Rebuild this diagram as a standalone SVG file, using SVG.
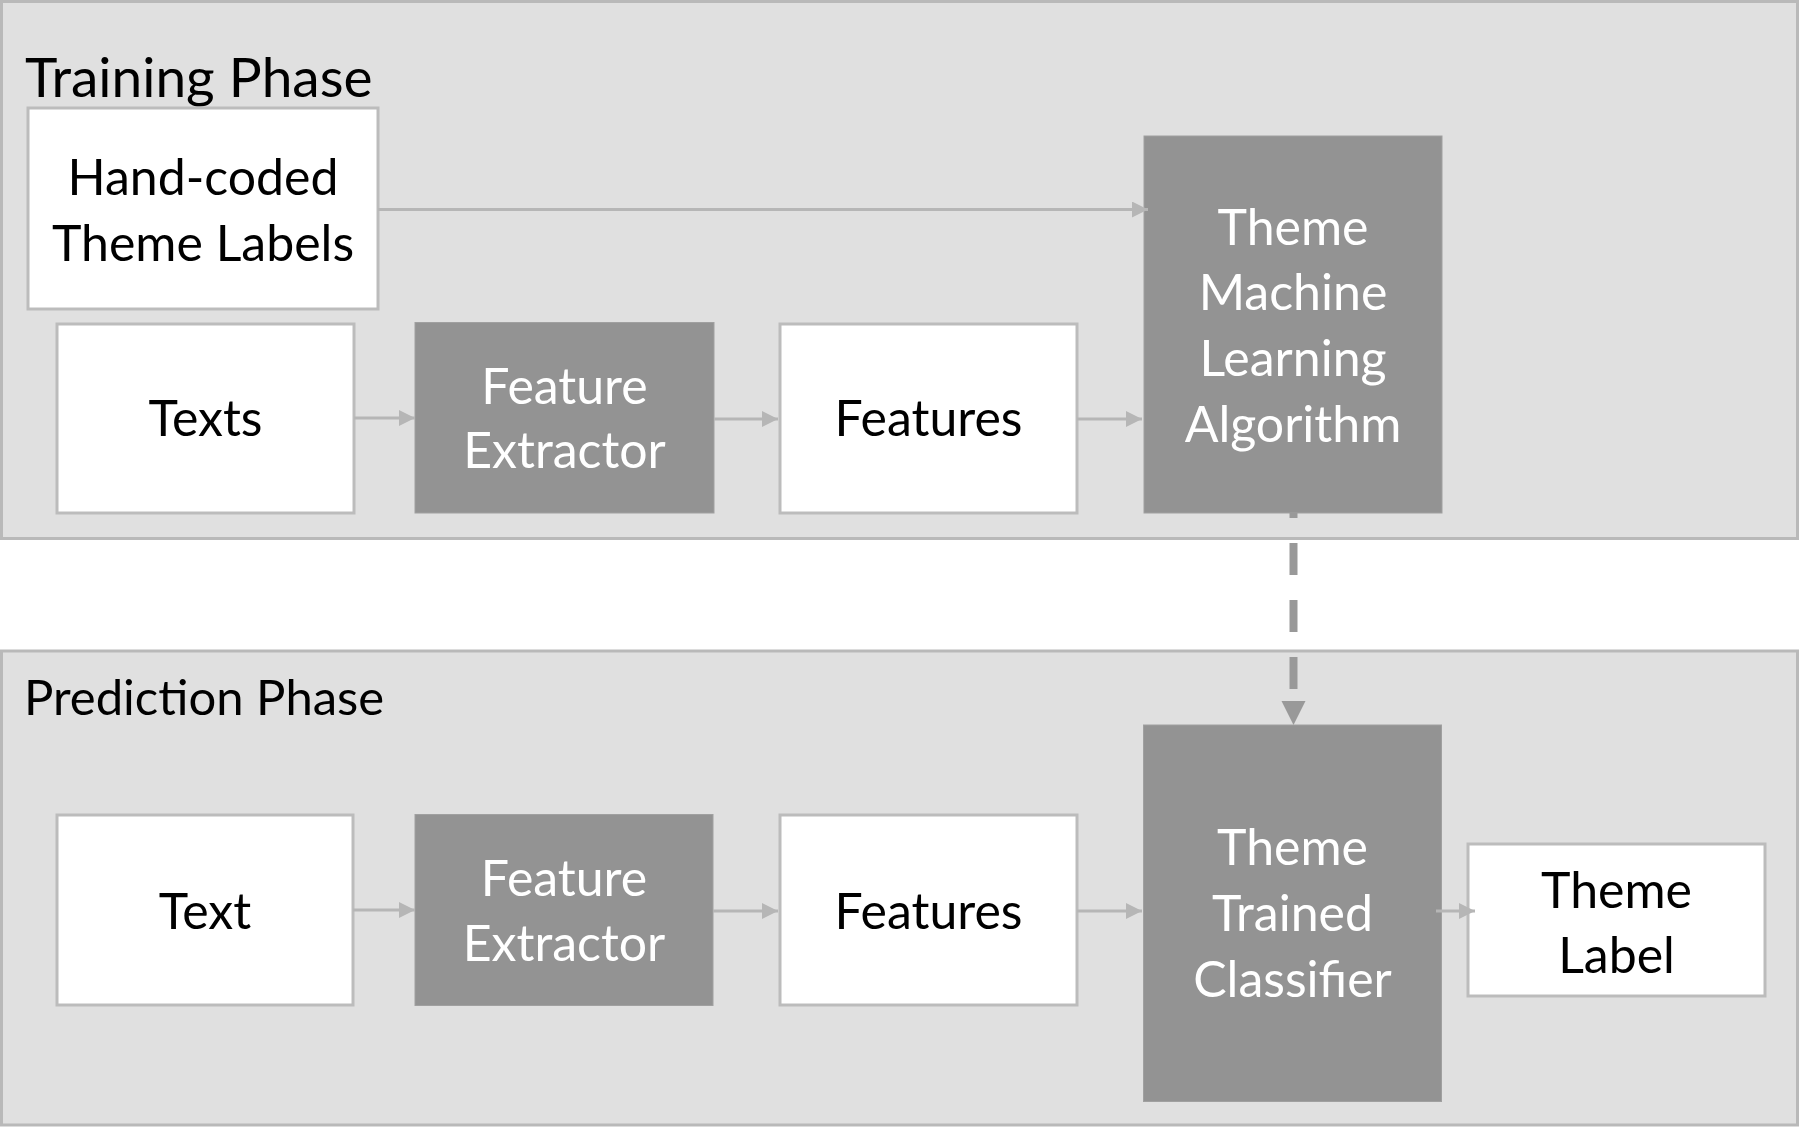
<svg xmlns="http://www.w3.org/2000/svg" width="1800" height="1128" viewBox="0 0 1800 1128">
<defs>
<style>
.panel{fill:#e0e0e0;stroke:#b9b9b9;stroke-width:3}
.light{fill:#ffffff;stroke:#bcbcbc;stroke-width:3}
.dark{fill:#939393;stroke:#a0a0a0;stroke-width:1}
.title{font-family:Lato,"Liberation Sans",sans-serif;font-size:55px;fill:#000}
.title2{font-family:Lato,"Liberation Sans",sans-serif;font-size:49px;fill:#000}
.lt{font-family:Lato,"Liberation Sans",sans-serif;font-size:50px;fill:#000;text-anchor:middle}
.dt{font-family:Lato,"Liberation Sans",sans-serif;font-size:50px;fill:#ffffff;text-anchor:middle}
.conn{stroke:#b6b6b6;stroke-width:3;fill:none;marker-end:url(#ah)}
.dash{stroke:#999999;stroke-width:8;fill:none;stroke-dasharray:32 25;stroke-dashoffset:27}
</style>
<marker id="ah" viewBox="0 0 10 10" refX="10" refY="5" markerUnits="userSpaceOnUse" markerWidth="17" markerHeight="16" orient="auto">
<path d="M0,0 L10,5 L0,10 z" fill="#b6b6b6"/>
</marker>
</defs>

<g id="training-panel">
<rect class="panel" x="1.5" y="1.5" width="1796" height="537"/>
<text class="title" x="25" y="97">Training Phase</text>
</g>
<g id="prediction-panel">
<rect class="panel" x="1.5" y="651" width="1796" height="474"/>
<text class="title2" x="24" y="715">Prediction Phase</text>
</g>

<g id="hand-coded">
<rect class="light" x="28" y="108" width="350" height="201"/>
<text class="lt" x="203" y="195">Hand-coded</text>
<text class="lt" x="203" y="261">Theme Labels</text>
</g>
<g id="texts">
<rect class="light" x="57" y="324" width="297" height="189"/>
<text class="lt" x="205.5" y="436">Texts</text>
</g>
<g id="fe-train">
<rect class="dark" x="415" y="322.5" width="299" height="190.5"/>
<text class="dt" x="564.5" y="404">Feature</text>
<text class="dt" x="564.5" y="468">Extractor</text>
</g>
<g id="features-train">
<rect class="light" x="780" y="324" width="297" height="189"/>
<text class="lt" x="928.5" y="436">Features</text>
</g>
<g id="ml-algorithm">
<rect class="dark" x="1144" y="136" width="298" height="377"/>
<text class="dt" x="1293" y="245">Theme</text>
<text class="dt" x="1293" y="310">Machine</text>
<text class="dt" x="1293" y="376">Learning</text>
<text class="dt" x="1293" y="442">Algorithm</text>
</g>

<g id="text-pred">
<rect class="light" x="57" y="815" width="296" height="190"/>
<text class="lt" x="205" y="929">Text</text>
</g>
<g id="fe-pred">
<rect class="dark" x="415" y="814.5" width="298" height="191"/>
<text class="dt" x="564" y="896">Feature</text>
<text class="dt" x="564" y="961">Extractor</text>
</g>
<g id="features-pred">
<rect class="light" x="780" y="815" width="297" height="190"/>
<text class="lt" x="928.5" y="929">Features</text>
</g>
<g id="classifier">
<rect class="dark" x="1143.5" y="725" width="298" height="376.5"/>
<text class="dt" x="1292.5" y="865">Theme</text>
<text class="dt" x="1292.5" y="931">Trained</text>
<text class="dt" x="1292.5" y="997">Classifier</text>
</g>
<g id="theme-label">
<rect class="light" x="1468" y="844" width="297" height="152"/>
<text class="lt" x="1616.5" y="908">Theme</text>
<text class="lt" x="1616.5" y="973">Label</text>
</g>

<g id="connectors">
<line class="conn" x1="378" y1="209.5" x2="1148" y2="209.5"/>
<line class="conn" x1="354" y1="418" x2="415" y2="418"/>
<line class="conn" x1="714" y1="419" x2="778" y2="419"/>
<line class="conn" x1="1077" y1="419" x2="1142" y2="419"/>
<line class="conn" x1="353" y1="910" x2="415" y2="910"/>
<line class="conn" x1="713" y1="911" x2="778" y2="911"/>
<line class="conn" x1="1077" y1="911" x2="1142" y2="911"/>
<line class="conn" x1="1436" y1="911" x2="1475" y2="911"/>
<line class="dash" x1="1293.5" y1="513" x2="1293.5" y2="701"/>
<path d="M1281.5,701 L1305.5,701 L1293.5,725 z" fill="#999999"/>
</g>
</svg>
